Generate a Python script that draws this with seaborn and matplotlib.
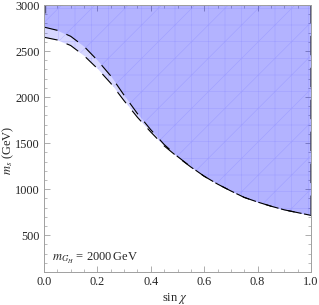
import matplotlib
matplotlib.use('Agg')
import matplotlib.pyplot as plt
from matplotlib.ticker import MultipleLocator
import seaborn as sns
import numpy as np

# boundary of the excluded region (sin chi vs m_s in GeV)
sin_chi = [0.0, 0.05, 0.1, 0.15, 0.2, 0.25, 0.3, 0.35, 0.4, 0.45, 0.5,
           0.55, 0.6, 0.65, 0.7, 0.75, 0.8, 0.85, 0.9, 0.95, 1.0]
ms_lower = [2650, 2620, 2560, 2450, 2310, 2150, 1960, 1780, 1620, 1470, 1350,
            1240, 1140, 1055, 980, 910, 860, 815, 775, 745, 715]
ms_upper = [2760, 2725, 2660, 2550, 2400, 2230, 2020, 1820, 1645, 1485, 1355,
            1242, 1140, 1055, 980, 910, 860, 815, 775, 745, 715]
ms_top = 3000
label_text = r"$m_{G_H}$ = 2000$\,$GeV"

sns.set_theme(style="ticks")
plt.rcParams['font.family'] = ['Liberation Serif', 'DejaVu Serif']
plt.rcParams['mathtext.fontset'] = 'stix'
plt.rcParams['lines.scale_dashes'] = False
plt.rcParams['hatch.linewidth'] = 0.4

fig = plt.figure(figsize=(3.19, 3.05), dpi=100)
ax = fig.add_axes([44 / 319, 1 - 272 / 305, 267 / 319, 267 / 305])

x = np.array(sin_chi)
lo = np.array(ms_lower)
hi = np.array(ms_upper)

# two overlapping translucent regions
ax.fill_between(x, lo, ms_top, color=(0, 0, 1), alpha=0.16, lw=0)
ax.fill_between(x, hi, ms_top, color=(0, 0, 1), alpha=0.16, lw=0)
# faint mesh
ax.fill_between(x, lo, ms_top, facecolor='none', edgecolor=(0.35, 0.35, 1, 0.22),
                lw=0, hatch='+/')

# dashed outlines
for curve in (lo, hi):
    sns.lineplot(x=sin_chi, y=curve, ax=ax, color='black', lw=0.8, sort=False)
    ax.lines[-1].set_dashes((10, 7))
ax.plot([0, 1], [ms_top, ms_top], color='#55557a', lw=1.3, dashes=(14, 9))
ax.plot([1, 1], [ms_lower[-1], ms_top], color='#55557a', lw=1.3, dashes=(14, 9))
ax.plot([0.004, 0.004], [ms_upper[0] + 150, ms_top], color='#55557a', lw=1.0, dashes=(10, 7))

ax.set_xlim(0, 1)
ax.set_ylim(100, 3000)
ax.xaxis.set_major_locator(MultipleLocator(0.2))
ax.xaxis.set_minor_locator(MultipleLocator(0.05))
ax.yaxis.set_major_locator(MultipleLocator(500))
ax.yaxis.set_minor_locator(MultipleLocator(100))
ax.set_yticks([500, 1000, 1500, 2000, 2500, 3000])
ax.xaxis.set_major_formatter(matplotlib.ticker.FormatStrFormatter('%.1f'))

for s in ax.spines.values():
    s.set_color('#a0a0a0')
    s.set_linewidth(0.7)
ax.tick_params(which='both', direction='in', top=True, right=True,
               color='#a0a0a0', labelsize=8.8, pad=3)
ax.tick_params(which='major', length=4, width=0.6)
ax.tick_params(which='minor', length=2, width=0.5)

fig.text(175 / 319, 1 - 298 / 305, r"sin $\chi$", fontsize=9, ha='center', va='center')
fig.text(8 / 319, 1 - 150 / 305, r"$m_s$ (GeV)", fontsize=9, ha='center', va='center',
         rotation=90)
ax.text(0.03, 250, label_text, fontsize=9, va='center', ha='left')

fig.savefig('out.png', dpi=100)
